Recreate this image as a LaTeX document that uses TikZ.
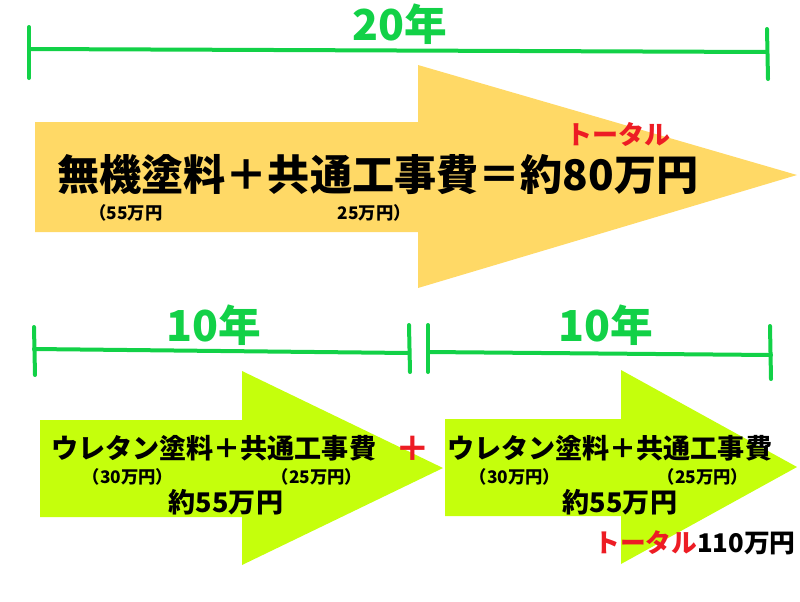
\documentclass[tikz,border=0pt]{standalone}
\usepackage{fontspec}
\usepackage{tikz}
\newfontfamily\jpfont{Noto Sans CJK JP}
\definecolor{arrowyellow}{RGB}{255,217,102}
\definecolor{arrowlime}{RGB}{197,255,12}
\definecolor{scalegreen}{RGB}{18,209,71}
\definecolor{totalred}{RGB}{237,28,36}
\tikzset{
  scalebar/.style={draw=scalegreen, line width=3pt, line cap=round},
  yeartext/.style={inner sep=0.75pt, text=scalegreen, font=\jpfont\bfseries\fontsize{32}{32}\selectfont},
  bigtext/.style={inner sep=0.75pt, font=\jpfont\bfseries\fontsize{31.6}{31.6}\selectfont},
  midtext/.style={inner sep=0.75pt, font=\jpfont\bfseries\fontsize{20.3}{20.3}\selectfont},
  smalltext/.style={inner sep=0.75pt, font=\jpfont\bfseries\fontsize{13}{13}\selectfont},
}

\begin{document}
\begin{tikzpicture}[x=0.75pt,y=0.75pt,yscale=-1,xscale=1]
\useasboundingbox (0,0) rectangle (800,601);

%Shape: Arrow [id:top20]
\fill [arrowyellow] (35,122) -- (418,122) -- (418,65) -- (797,175) -- (418,288) -- (418,232) -- (35,232) -- cycle ;
%Shape: Arrow [id:left10]
\fill [arrowlime] (40,420) -- (242,420) -- (242,371) -- (443,468) -- (242,565) -- (242,517) -- (40,517) -- cycle ;
%Shape: Arrow [id:right10]
\fill [arrowlime] (445,419) -- (621,419) -- (621,370) -- (797,467) -- (621,564) -- (621,516) -- (445,516) -- cycle ;

%Scale bars
\coordinate (topL) at (29,49) ;
\coordinate (topR) at (767,52) ;
\coordinate (topLa) at (29,27) ;
\coordinate (topLb) at (29,78) ;
\coordinate (topRa) at (767,29) ;
\coordinate (topRb) at (768,79) ;
\draw [scalebar] (topL) -- (topR) ;
\draw [scalebar] (topLa) -- (topLb) ;
\draw [scalebar] (topRa) -- (topRb) ;

\coordinate (lowAL) at (34,349) ;
\coordinate (lowAR) at (409,353) ;
\coordinate (lowALa) at (34,327) ;
\coordinate (lowALb) at (35,375) ;
\coordinate (lowARa) at (409,325) ;
\coordinate (lowARb) at (410,372) ;
\draw [scalebar] (lowAL) -- (lowAR) ;
\draw [scalebar] (lowALa) -- (lowALb) ;
\draw [scalebar] (lowARa) -- (lowARb) ;

\coordinate (lowBL) at (428,352) ;
\coordinate (lowBR) at (771,355) ;
\coordinate (lowBLa) at (428,325) ;
\coordinate (lowBLb) at (428,372) ;
\coordinate (lowBRa) at (770,326) ;
\coordinate (lowBRb) at (771,379) ;
\draw [scalebar] (lowBL) -- (lowBR) ;
\draw [scalebar] (lowBLa) -- (lowBLb) ;
\draw [scalebar] (lowBRa) -- (lowBRb) ;

% Text Node
\node [yeartext] (year20) at (400,24) {20年};
% Text Node
\node [yeartext] (year10a) at (214,325) {10年};
% Text Node
\node [yeartext] (year10b) at (606,325) {10年};

% Text Node
\node [bigtext, anchor=west] (sum20) at (56,175) {無機塗料＋共通工事費＝約80万円};
% Text Node
\node [inner sep=0.75pt, text=totalred, font=\jpfont\bfseries\fontsize{19.5}{19.5}\selectfont] (total20) at (618,134) {トータル};
% Text Node
\node [smalltext, anchor=west] (cost55) at (88,213) {（55万円};
% Text Node
\node [smalltext, anchor=east] (cost25a) at (412,213) {25万円）};

% Text Node
\node [midtext, anchor=west] (sumA) at (50,448) {ウレタン塗料＋共通工事費};
% Text Node
\node [smalltext] (costA30) at (128,477) {（30万円）};
% Text Node
\node [smalltext] (costA25) at (317,477) {（25万円）};
% Text Node
\node [midtext] (priceA) at (226,502) {約55万円};

% Text Node
\node [inner sep=0.75pt, text=totalred, font=\jpfont\bfseries\fontsize{26}{26}\selectfont] (plus) at (413,449) {＋};

% Text Node
\node [midtext, anchor=west] (sumB) at (446,448) {ウレタン塗料＋共通工事費};
% Text Node
\node [smalltext] (costB30) at (515,477) {（30万円）};
% Text Node
\node [smalltext] (costB25) at (703,477) {（25万円）};
% Text Node
\node [midtext] (priceB) at (620,502) {約55万円};

% Text Node
\node [inner sep=0.75pt, anchor=west, font=\jpfont\bfseries\fontsize{19.3}{19.3}\selectfont] (total110) at (593,543) {\textcolor{totalred}{トータル}110万円};

\end{tikzpicture}
\end{document}
